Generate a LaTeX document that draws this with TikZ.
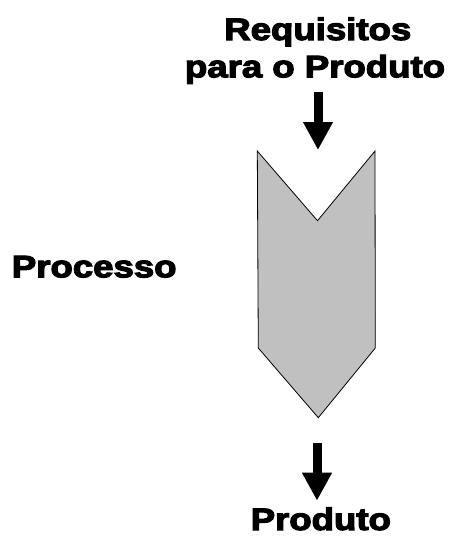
\documentclass[tikz,border=0pt]{standalone}
\usepackage{fontspec}
\setmainfont{Liberation Sans}[BoldFeatures={FakeBold=3.5}]
\usetikzlibrary{arrows.meta}
\definecolor{shapegray}{RGB}{192,192,192}
\newcommand{\heavy}[1]{\scalebox{1.18}[1]{\bfseries #1}}
\tikzset{
  lbl/.style={inner sep=0pt, anchor=base, font=\fontsize{31}{37}\selectfont},
  bigarrow/.style={line width=9pt, -{Triangle[width=28pt,length=28pt]}},
  chevron/.style={draw=black, line width=0.8pt, fill=shapegray, line join=miter}
}
\begin{document}
\begin{tikzpicture}[x=1pt,y=-1pt]
\useasboundingbox (0,0) rectangle (454,536);
\node[lbl] (req1) at (317.8,40) {\heavy{Requisitos}};
\node[lbl] (req2) at (315,77.3) {\heavy{para o Produto}};
\node[lbl] (proc) at (94.2,277.3) {\heavy{Processo}};
\node[lbl] (prod) at (320.8,530) {\heavy{Produto}};
\draw[chevron] (257.3,151) -- (317.5,220.7) -- (375,151) -- (375.3,348) -- (318.3,417.7) -- (258.3,348) -- cycle;
\coordinate (a1s) at (318,91.7);
\coordinate (a1e) at (318,150);
\coordinate (a2s) at (317,443.3);
\coordinate (a2e) at (317,500.7);
\draw[bigarrow] (a1s) -- (a1e);
\draw[bigarrow] (a2s) -- (a2e);
\end{tikzpicture}
\end{document}
